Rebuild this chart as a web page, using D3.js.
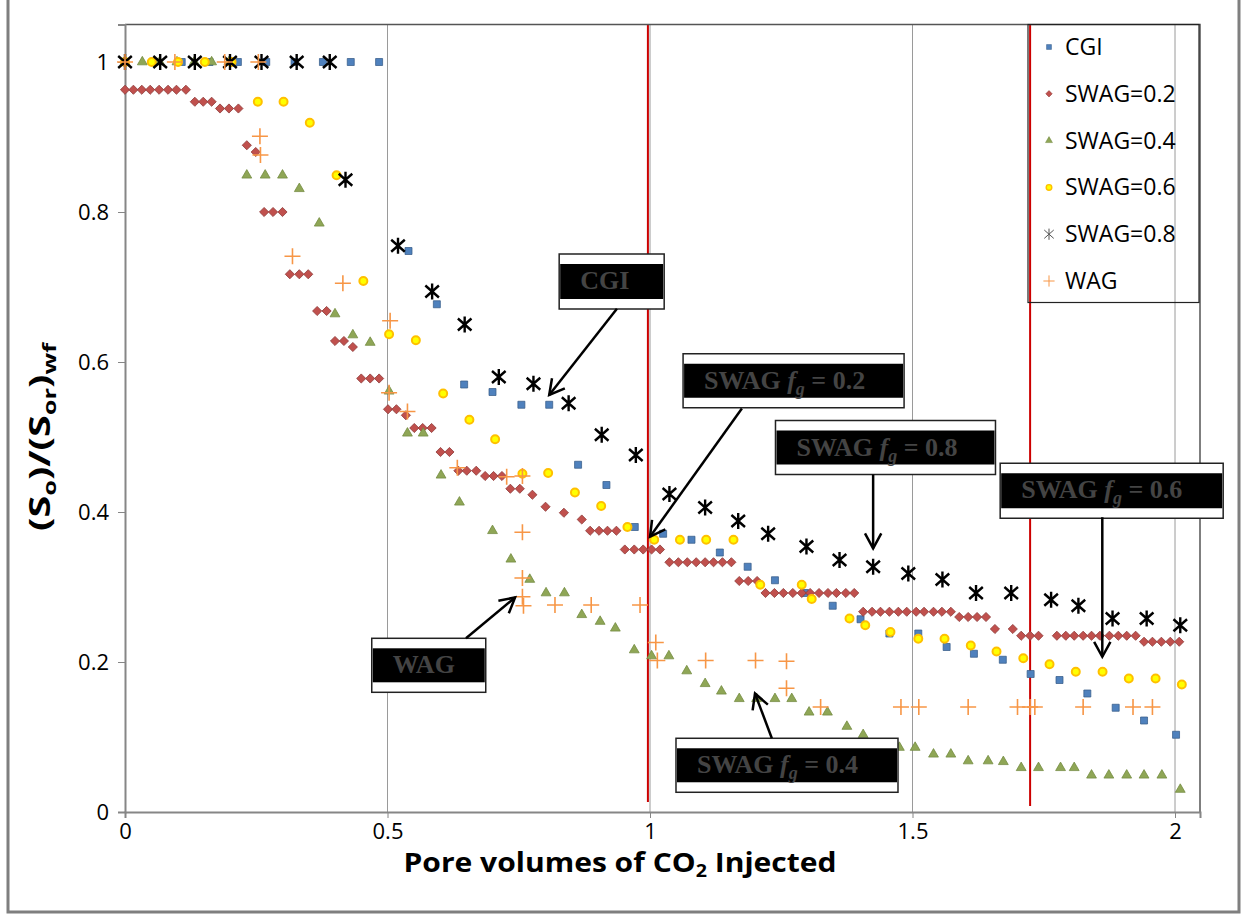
<!DOCTYPE html>
<html>
<head>
<meta charset="utf-8">
<script src="https://cdn.jsdelivr.net/npm/d3@7"></script>
<style>
body { margin: 0; background: #fff; }
</style>
</head>
<body>
<svg id="chart" width="1243" height="915" font-family="Open Sans, DejaVu Sans, sans-serif"></svg>
<script>
// values: [pore volumes injected, (So)/(Sor)wf]
var cgi = [[0,1],[0.054,1],[0.108,1],[0.161,1],[0.215,1],[0.269,1],[0.323,1],[0.377,1],[0.43,1],[0.484,1],
  [0.54,0.748],[0.594,0.677],[0.646,0.570],[0.70,0.56],[0.755,0.543],[0.808,0.543],[0.863,0.463],[0.917,0.436],
  [0.971,0.380],[1.025,0.371],[1.079,0.363],[1.133,0.346],[1.186,0.327],[1.238,0.309],[1.295,0.292],[1.348,0.275],
  [1.401,0.257],[1.456,0.238],[1.511,0.238],[1.565,0.220],[1.617,0.211],[1.672,0.203],[1.725,0.184],[1.78,0.176],
  [1.833,0.158],[1.887,0.139],[1.941,0.122],[2.002,0.103]];

var swag02 = [[0,0.963],[0.016,0.963],[0.032,0.963],[0.048,0.963],[0.065,0.963],[0.082,0.963],[0.098,0.963],[0.116,0.963],
  [0.133,0.947],[0.149,0.947],[0.165,0.947],[0.181,0.938],[0.198,0.938],[0.216,0.938],[0.232,0.889],[0.249,0.880],
  [0.265,0.80],[0.282,0.80],[0.30,0.80],[0.314,0.717],[0.332,0.717],[0.349,0.717],[0.366,0.668],[0.384,0.668],
  [0.40,0.628],[0.417,0.628],[0.434,0.620],[0.45,0.578],[0.467,0.578],[0.484,0.578],[0.501,0.537],[0.517,0.537],
  [0.535,0.529],[0.551,0.512],[0.567,0.512],[0.584,0.512],[0.601,0.48],[0.618,0.48],[0.635,0.455],[0.651,0.455],
  [0.669,0.455],[0.686,0.448],[0.702,0.448],[0.718,0.448],[0.734,0.431],[0.752,0.431],[0.776,0.423],[0.801,0.407],
  [0.836,0.399],[0.87,0.39],[0.886,0.375],[0.903,0.375],[0.919,0.375],[0.936,0.375],[0.952,0.35],[0.970,0.35],
  [0.987,0.35],[1.003,0.35],[1.019,0.35],[1.037,0.333],[1.054,0.333],[1.071,0.333],[1.088,0.333],[1.105,0.333],
  [1.121,0.333],[1.138,0.333],[1.155,0.333],[1.170,0.308],[1.187,0.308],[1.204,0.308],[1.220,0.292],[1.237,0.292],
  [1.254,0.292],[1.272,0.292],[1.289,0.292],[1.305,0.292],[1.322,0.292],[1.339,0.292],[1.355,0.292],[1.373,0.292],
  [1.389,0.292],[1.406,0.267],[1.423,0.267],[1.439,0.267],[1.456,0.267],[1.473,0.267],[1.489,0.267],[1.507,0.267],
  [1.522,0.267],[1.540,0.267],[1.556,0.267],[1.573,0.267],[1.589,0.26],[1.606,0.26],[1.623,0.26],[1.640,0.26],
  [1.657,0.244],[1.691,0.244],[1.707,0.235],[1.724,0.235],[1.740,0.235],[1.775,0.235],[1.792,0.235],[1.808,0.235],
  [1.825,0.235],[1.841,0.235],[1.857,0.235],[1.875,0.235],[1.892,0.235],[1.908,0.235],[1.925,0.235],[1.941,0.227],
  [1.957,0.227],[1.974,0.227],[1.991,0.227],[2.008,0.227]];

var swag04 = [[0,1],[0.033,1],[0.066,1],[0.099,1],[0.132,1],[0.165,1],[0.198,1],[0.232,0.849],[0.267,0.849],[0.30,0.849],
  [0.332,0.831],[0.37,0.785],[0.40,0.664],[0.434,0.636],[0.467,0.626],[0.503,0.561],[0.538,0.505],[0.568,0.505],
  [0.602,0.449],[0.637,0.413],[0.70,0.375],[0.735,0.337],[0.771,0.31],[0.802,0.292],[0.837,0.292],[0.870,0.263],
  [0.905,0.254],[0.934,0.245],[0.970,0.216],[1.003,0.208],[1.036,0.208],[1.07,0.188],[1.105,0.171],[1.136,0.161],
  [1.17,0.151],[1.203,0.151],[1.238,0.151],[1.27,0.151],[1.303,0.133],[1.338,0.133],[1.375,0.114],[1.406,0.103],
  [1.475,0.086],[1.505,0.086],[1.54,0.077],[1.573,0.077],[1.606,0.068],[1.644,0.068],[1.673,0.067],[1.707,0.059],
  [1.74,0.059],[1.782,0.059],[1.808,0.059],[1.841,0.049],[1.874,0.049],[1.908,0.049],[1.941,0.049],[1.975,0.049],
  [2.01,0.030]];

var swag06 = [[0,1],[0.051,1],[0.101,1],[0.152,1],[0.203,1],[0.253,0.947],[0.302,0.947],[0.352,0.919],[0.403,0.849],
  [0.454,0.708],[0.503,0.637],[0.554,0.629],[0.606,0.558],[0.656,0.523],[0.705,0.497],[0.757,0.451],[0.806,0.452],
  [0.857,0.426],[0.907,0.408],[0.957,0.380],[1.008,0.363],[1.057,0.363],[1.107,0.363],[1.159,0.363],[1.21,0.303],
  [1.289,0.303],[1.308,0.284],[1.38,0.258],[1.41,0.249],[1.458,0.24],[1.511,0.231],[1.561,0.231],[1.611,0.222],
  [1.66,0.214],[1.711,0.205],[1.761,0.197],[1.811,0.187],[1.862,0.187],[1.912,0.178],[1.963,0.178],[2.013,0.170]];

var swag08 = [[0,1],[0.067,1],[0.133,1],[0.2,1],[0.26,1],[0.327,1],[0.39,1],[0.42,0.843],[0.52,0.755],[0.585,0.694],
  [0.647,0.650],[0.712,0.580],[0.778,0.571],[0.845,0.545],[0.908,0.503],[0.973,0.476],[1.037,0.424],[1.105,0.406],
  [1.168,0.388],[1.225,0.371],[1.298,0.354],[1.361,0.336],[1.425,0.327],[1.492,0.318],[1.557,0.31],[1.621,0.292],
  [1.688,0.292],[1.764,0.283],[1.816,0.275],[1.881,0.258],[1.946,0.258],[2.01,0.249]];

var wag = [[0,1],[0.095,1],[0.19,1],[0.254,1],[0.257,0.901],[0.258,0.876],[0.319,0.741],[0.415,0.705],[0.505,0.655],
  [0.503,0.559],[0.538,0.534],[0.633,0.459],[0.727,0.447],[0.757,0.448],[0.757,0.373],[0.757,0.312],[0.757,0.287],
  [0.759,0.275],[0.819,0.276],[0.888,0.276],[0.981,0.276],[1.011,0.226],[1.014,0.202],[1.106,0.202],[1.201,0.202],
  [1.26,0.201],[1.26,0.165],[1.325,0.140],[1.478,0.140],[1.512,0.140],[1.606,0.140],[1.70,0.140],[1.724,0.140],
  [1.733,0.140],[1.825,0.140],[1.92,0.140],[1.957,0.140]];

var xTicks = [0, 0.5, 1, 1.5, 2];
var yTicks = [0, 0.2, 0.4, 0.6, 0.8, 1];
var refLines = [0.996, 1.724];   // red vertical markers

var seriesNames = ["CGI", "SWAG=0.2", "SWAG=0.4", "SWAG=0.6", "SWAG=0.8", "WAG"];

// callouts, box corner and arrow ends in data units
var callouts = [
  {label: "CGI", fg: null, bx: 0.827, by: 0.744, w: 105, h: 55, from: [0.937, 0.671], to: [0.808, 0.556]},
  {label: "SWAG", fg: "0.2", bx: 1.063, by: 0.611, w: 221, h: 54, from: [1.175, 0.538], to: [1.0, 0.367]},
  {label: "SWAG", fg: "0.8", bx: 1.239, by: 0.522, w: 220, h: 54, from: [1.425, 0.450], to: [1.425, 0.3515]},
  {label: "SWAG", fg: "0.6", bx: 1.667, by: 0.465, w: 223, h: 55, from: [1.8615, 0.393], to: [1.8615, 0.207]},
  {label: "WAG", fg: null, bx: 0.470, by: 0.2316, w: 114, h: 54, from: [0.6495, 0.2316], to: [0.743, 0.286]},
  {label: "SWAG", fg: "0.4", bx: 1.0495, by: 0.0983, w: 222, h: 54, from: [1.232, 0.0983], to: [1.2, 0.158]}
];

var svg = d3.select("#chart");

var x = d3.scaleLinear().domain([0, 2.0476]).range([125, 1200]);
var y = d3.scaleLinear().domain([0, 1.05]).range([812, 24.5]);

// outer frame
svg.append("path")
  .attr("d", "M8,0V912H1239V0")
  .attr("fill", "none").attr("stroke", "#7f7f7f").attr("stroke-width", 3);

// vertical gridlines
svg.append("g").selectAll("line").data(xTicks.slice(1)).join("line")
  .attr("x1", d => x(d)).attr("x2", d => x(d))
  .attr("y1", y.range()[1]).attr("y2", y.range()[0])
  .attr("stroke", "#9a9a9a").attr("stroke-width", 1);

// red markers
svg.append("g").selectAll("line").data(refLines).join("line")
  .attr("x1", d => x(d)).attr("x2", d => x(d))
  .attr("y1", y.range()[1]).attr("y2", (d, i) => i == 0 ? 802 : 806)
  .attr("stroke", "#cc0000").attr("stroke-width", 2);

// plot border top/right
svg.append("path")
  .attr("d", "M" + x.range()[0] + "," + y.range()[1] + "H" + x.range()[1] + "V" + y.range()[0])
  .attr("fill", "none").attr("stroke", "#555").attr("stroke-width", 1.5);

// axes
var xAxis = svg.append("g").attr("transform", "translate(0," + y(0) + ")")
  .call(d3.axisBottom(x).tickValues(xTicks).tickFormat(d => String(d)).tickSize(6).tickPadding(5));
var yAxis = svg.append("g").attr("transform", "translate(" + x(0) + ",0)")
  .call(d3.axisLeft(y).tickValues(yTicks).tickFormat(d => String(d)).tickSize(7).tickPadding(9));
[xAxis, yAxis].forEach(function (a) {
  a.attr("font-family", null).attr("font-size", null);
  a.select(".domain").attr("stroke", "#868686").attr("stroke-width", 2);
  a.selectAll(".tick line").attr("stroke", "#868686");
  a.selectAll(".tick text").style("font-size", "22px").attr("fill", "#000");
});

// axis titles
var xt = svg.append("text").attr("x", 620).attr("y", 872).attr("text-anchor", "middle")
  .attr("textLength", 433).attr("lengthAdjust", "spacingAndGlyphs")
  .style("font-size", "26px").style("font-weight", "bold");
xt.append("tspan").text("Pore volumes of CO");
xt.append("tspan").attr("dy", 5).style("font-size", "17px").text("2");
xt.append("tspan").attr("dy", -5).text(" Injected");

var yt = svg.append("text").attr("transform", "translate(50,437) rotate(-90)")
  .attr("text-anchor", "middle").attr("textLength", 188).attr("lengthAdjust", "spacingAndGlyphs")
  .style("font-size", "28px").style("font-weight", "bold");
yt.append("tspan").text("(S");
yt.append("tspan").attr("dy", 6).style("font-size", "18px").text("o");
yt.append("tspan").attr("dy", -6).text(")/(S");
yt.append("tspan").attr("dy", 6).style("font-size", "18px").text("or");
yt.append("tspan").attr("dy", -6).text(")");
yt.append("tspan").attr("dy", 6).style("font-size", "18px").text("wf");

// marker drawing
var asterisk = r => "M0," + (-r) + "V" + r + "M" + (-r * 0.85) + "," + (-r * 0.75) + "L" + (r * 0.85) + "," + (r * 0.75) +
  "M" + (-r * 0.85) + "," + (r * 0.75) + "L" + (r * 0.85) + "," + (-r * 0.75);
var plus = r => "M" + (-r) + ",0H" + r + "M0," + (-r) + "V" + r;

var styles = [
  {d: s => d3.symbol(d3.symbolSquare, 49 * s * s)(), fill: "#4F81BD", stroke: "#385D8A", sw: 0.75, rot: 0},
  {d: s => d3.symbol(d3.symbolSquare, 42 * s * s)(), fill: "#C0504D", stroke: "#8C3836", sw: 0.75, rot: 45},
  {d: s => d3.symbol(d3.symbolTriangle, 42 * s * s)(), fill: "#8FA656", stroke: "#71893F", sw: 0.75, rot: 0},
  {d: s => d3.symbol(d3.symbolCircle, 50 * s * s)(), fill: "#FFFF00", stroke: "#FFC000", sw: 2, rot: 0},
  {d: s => asterisk(8 * s), fill: "none", stroke: "#000", sw: 2.4, rot: 0},
  {d: s => plus(8 * s), fill: "none", stroke: "#F79646", sw: 1.6, rot: 0}
];
var allSeries = [cgi, swag02, swag04, swag06, swag08, wag];

allSeries.forEach(function (data, i) {
  var st = styles[i];
  svg.append("g").selectAll("path").data(data).join("path")
    .attr("transform", d => "translate(" + x(d[0]) + "," + y(d[1]) + ") rotate(" + st.rot + ")")
    .attr("d", st.d(1))
    .attr("fill", st.fill).attr("stroke", st.stroke).attr("stroke-width", st.sw);
});

// callout boxes with arrows
function arrow(g, p0, p1) {
  var x0 = x(p0[0]), y0 = y(p0[1]), x1 = x(p1[0]), y1 = y(p1[1]);
  var a = Math.atan2(y1 - y0, x1 - x0), L = 17, da = 0.5;
  g.append("line").attr("x1", x0).attr("y1", y0).attr("x2", x1).attr("y2", y1)
    .attr("stroke", "#000").attr("stroke-width", 2.5);
  g.append("path")
    .attr("d", "M" + (x1 - L * Math.cos(a - da)) + "," + (y1 - L * Math.sin(a - da)) + "L" + x1 + "," + y1 +
      "L" + (x1 - L * Math.cos(a + da)) + "," + (y1 - L * Math.sin(a + da)))
    .attr("fill", "none").attr("stroke", "#000").attr("stroke-width", 2.5);
}

callouts.forEach(function (c) {
  var g = svg.append("g");
  var bx = x(c.bx), by = y(c.by);
  g.append("rect").attr("x", bx).attr("y", by).attr("width", c.w).attr("height", c.h)
    .attr("fill", "#fff").attr("stroke", "#222").attr("stroke-width", 1.5);
  g.append("rect").attr("x", bx + 1).attr("y", by + 10).attr("width", c.w - 2).attr("height", c.h - 20)
    .attr("fill", "#000");
  var t = g.append("text").attr("x", bx + 21).attr("y", by + 35)
    .style("font-family", "Liberation Serif, serif").style("font-weight", "bold")
    .style("font-size", "26px").attr("fill", "#444");
  t.append("tspan").text(c.label);
  if (c.fg) {
    t.append("tspan").style("font-style", "italic").text(" f");
    t.append("tspan").style("font-style", "italic").style("font-size", "18px").attr("dy", 6).text("g");
    t.append("tspan").attr("dy", -6).text(" = " + c.fg);
  }
  arrow(g, c.from, c.to);
});

// legend
var lg = svg.append("g");
lg.append("rect").attr("x", 1028).attr("y", 24.5).attr("width", 171).attr("height", 278)
  .attr("fill", "none").attr("stroke", "#222").attr("stroke-width", 1.2);
seriesNames.forEach(function (name, i) {
  var st = styles[i], cy = 47 + i * 46.8;
  lg.append("path").attr("transform", "translate(1049," + cy + ") rotate(" + st.rot + ")")
    .attr("d", st.d(0.7)).attr("fill", st.fill).attr("stroke", i == 4 ? "#555" : st.stroke)
    .attr("stroke-width", i >= 4 ? 1 : st.sw * 0.7);
  lg.append("text").attr("x", 1065).attr("y", cy + 8).style("font-size", "23px").text(name);
});
</script>
</body>
</html>
